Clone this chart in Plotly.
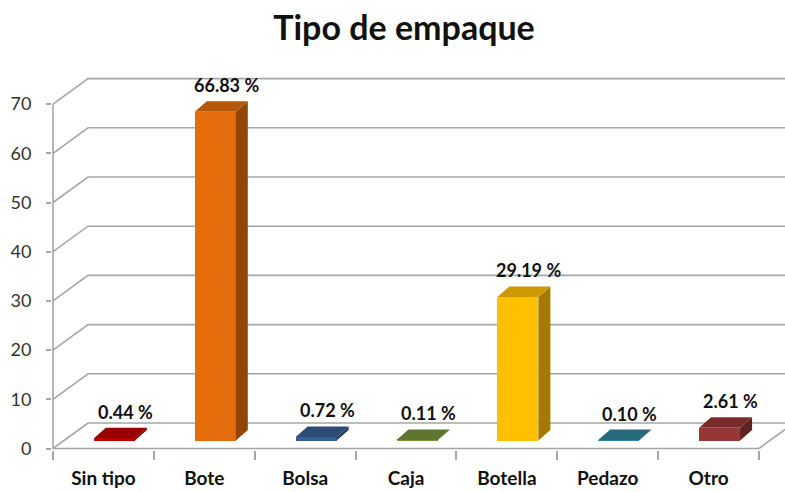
import plotly.graph_objects as go

# ---- data -------------------------------------------------------------
categories = ["Sin tipo", "Bote", "Bolsa", "Caja", "Botella", "Pedazo", "Otro"]
percentages = [0.44, 66.83, 0.72, 0.11, 29.19, 0.10, 2.61]
y_ticks = [0, 10, 20, 30, 40, 50, 60, 70]
bar_colors = ["#C00000", "#E46C0A", "#376092", "#77933C", "#FFC000", "#31859C", "#963735"]

# ---- geometry (pixels) ------------------------------------------------
WIDTH, HEIGHT = 785, 492
PLOT_L, PLOT_R, PLOT_T, PLOT_B = 52, 785, 75, 450
FLOOR_LEFT_PX = 53      # left end of the front floor edge
CAT_PX = 100.86         # width of one category slot
ZERO_PX = 448.5         # value 0 on the front plane
UNIT_PX = 4.92          # pixels per percentage point

WALL_SHIFT = (35, 25.5)   # back wall offset (right, up)
BAR_SHIFT = (11, 8)       # bar plane offset from front plane
BAR_DEPTH = (12, 10.5)    # depth of each bar
BAR_WIDTH_PX = 41

FONT = "Lato"
GRID = "#a6a6a6"


def cx(px):
    return px / CAT_PX


def cy(px):
    return px / UNIT_PX


n = len(categories)
x_lo = -0.5 - cx(FLOOR_LEFT_PX - PLOT_L)
x_range = [x_lo, x_lo + cx(PLOT_R - PLOT_L)]
y_range = [-cy(PLOT_B - ZERO_PX), cy(ZERO_PX - PLOT_T)]
x2_range = [v - cx(BAR_SHIFT[0]) for v in x_range]
y2_range = [v - cy(BAR_SHIFT[1]) for v in y_range]

wdx, wdy = cx(WALL_SHIFT[0]), cy(WALL_SHIFT[1])
bdx, bdy = cx(BAR_DEPTH[0]), cy(BAR_DEPTH[1])
bw = cx(BAR_WIDTH_PX)
positions = list(range(n))


def shade(hex_color, f):
    h = hex_color.lstrip("#")
    r, g, b = (int(h[i:i + 2], 16) for i in (0, 2, 4))
    return "rgb({},{},{})".format(int(r * f), int(g * f), int(b * f))


fig = go.Figure()

# front faces of the bars
fig.add_trace(go.Bar(
    x=positions, y=percentages, xaxis="x2", yaxis="y2",
    width=bw, marker=dict(color=bar_colors, line=dict(width=0)),
    hoverinfo="skip", showlegend=False,
))

shapes = []

# back wall gridlines with their diagonal returns to the front axis
for t in y_ticks:
    shapes.append(dict(
        type="path", xref="x", yref="y", layer="below",
        path="M {a},{t} L {b},{u} L {c},{u}".format(
            a=-0.5, b=-0.5 + wdx, c=n - 0.5 + wdx, t=t, u=t + wdy),
        line=dict(color=GRID, width=1.6),
    ))

# right edge of the floor
shapes.append(dict(
    type="line", xref="x", yref="y", layer="below",
    x0=n - 0.5, y0=0, x1=n - 0.5 + wdx, y1=wdy,
    line=dict(color=GRID, width=1.6),
))

# front value axis and front floor edge
shapes.append(dict(
    type="path", xref="x", yref="y", layer="below",
    path="M -0.5,{top} L -0.5,0 L {r},0".format(top=y_ticks[-1], r=n - 0.5),
    line=dict(color=GRID, width=1.6),
))

# side and top faces of the bars
for i, (v, col) in enumerate(zip(percentages, bar_colors)):
    xl, xr = i - bw / 2, i + bw / 2
    shapes.append(dict(
        type="path", xref="x2", yref="y2", layer="above",
        path="M {xr},0 L {xr},{v} L {xd},{vd} L {xd},{d} Z".format(
            xr=xr, v=v, xd=xr + bdx, vd=v + bdy, d=bdy),
        fillcolor=shade(col, 0.64), line=dict(width=0),
    ))
    shapes.append(dict(
        type="path", xref="x2", yref="y2", layer="above",
        path="M {xl},{v} L {xr},{v} L {xrd},{vd} L {xld},{vd} Z".format(
            xl=xl, xr=xr, xrd=xr + bdx, xld=xl + bdx, v=v, vd=v + bdy),
        fillcolor=shade(col, 0.8), line=dict(width=0),
    ))

# value labels
annotations = []
for i, v in enumerate(percentages):
    annotations.append(dict(
        x=i + bdx / 2, y=v + bdy, xref="x2", yref="y2",
        text="{:.2f} %".format(v), showarrow=False,
        xanchor="center", yanchor="middle", xshift=5, yshift=16,
        font=dict(family=FONT, size=18, color="#111111", weight="bold"),
    ))

fig.update_layout(
    width=WIDTH, height=HEIGHT, autosize=False,
    margin=dict(l=PLOT_L, r=WIDTH - PLOT_R, t=PLOT_T, b=HEIGHT - PLOT_B, pad=0),
    paper_bgcolor="white", plot_bgcolor="white",
    showlegend=False, bargap=0,
    title=dict(
        text="Tipo de empaque", x=404 / WIDTH, xanchor="center",
        y=1 - 28 / HEIGHT, yanchor="middle",
        font=dict(family=FONT, size=34, color="#111111", weight="bold"),
    ),
    xaxis=dict(
        range=x_range, showgrid=False, zeroline=False, showline=False,
        automargin=False,
        tickmode="array", tickvals=positions, ticktext=categories, ticks="",
        ticklabelstandoff=15,
        tickfont=dict(family=FONT, size=19, color="#111111", weight="bold"),
        minor=dict(tickmode="array", tickvals=[i - 0.5 for i in range(n + 1)],
                   ticks="outside", ticklen=9, tickcolor=GRID, tickwidth=1.6),
    ),
    yaxis=dict(
        range=y_range, showgrid=False, zeroline=False, showline=False,
        automargin=False,
        tickmode="array", tickvals=y_ticks, ticks="outside", ticklen=5,
        tickcolor=GRID, tickwidth=1.6, ticklabelstandoff=11,
        tickfont=dict(family=FONT, size=18, color="#333333"),
    ),
    xaxis2=dict(range=x2_range, overlaying="x", anchor="y2", visible=False),
    yaxis2=dict(range=y2_range, overlaying="y", anchor="x2", visible=False),
    shapes=shapes,
    annotations=annotations,
)

fig.write_html("out.html")
